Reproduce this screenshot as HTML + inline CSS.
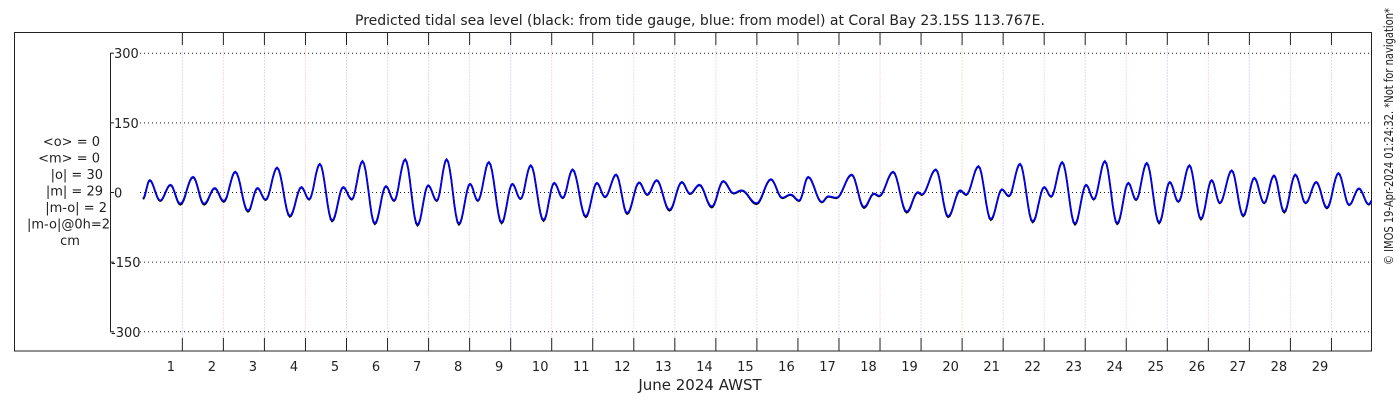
<!DOCTYPE html>
<html><head><meta charset="utf-8"><style>
html,body{margin:0;padding:0;background:#fff;}
svg{display:block;font-family:"DejaVu Sans","Liberation Sans",sans-serif;}
</style></head><body>
<svg id="chart" width="1400" height="400" xmlns="http://www.w3.org/2000/svg">
<text x="700" y="25" text-anchor="middle" font-size="14" fill="#222">Predicted tidal sea level (black: from tide gauge, blue: from model) at Coral Bay 23.15S 113.767E.</text>
<rect x="14.5" y="32.5" width="1357" height="318.5" fill="none" stroke="#222" stroke-width="1"/>
<g id="grid"></g>
<g id="axes"></g>
<g id="series"></g>
<g font-size="13" fill="#222" text-anchor="end">
<text x="100" y="146">&lt;o&gt; = 0</text>
<text x="100" y="162.5">&lt;m&gt; = 0</text>
<text x="103" y="179">|o| = 30</text>
<text x="103" y="195.5">|m| = 29</text>
<text x="107" y="212">|m-o| = 2</text>
<text x="110" y="228.5">|m-o|@0h=2</text>
<text x="70" y="245" text-anchor="middle">cm</text>
</g>
<text x="700" y="390" text-anchor="middle" font-size="15" fill="#222">June 2024 AWST</text>
<text transform="translate(1393,265) rotate(-90)" font-size="12" textLength="257" lengthAdjust="spacingAndGlyphs" fill="#222">© IMOS 19-Apr-2024 01:24:32. *Not for navigation*</text>
</svg>
<script>
const extremeTimes=[0.04,0.205,0.46,0.71,0.95,1.26,1.53,1.79,2.01,2.29,2.60,2.83,3.03,3.31,3.62,3.90,4.09,4.35,4.65,4.92,5.13,5.39,5.69,5.96,6.16,6.43,6.73,6.99,7.20,7.44,7.74,8.01,8.20,8.47,8.78,9.04,9.24,9.49,9.80,10.06,10.27,10.51,10.83,11.10,11.30,11.57,11.84,12.13,12.33,12.56,12.87,13.17,13.37,13.60,13.90,14.18,14.43,14.63,14.99,15.34,15.62,15.82,16.03,16.25,16.58,16.74,16.94,17.31,17.61,17.85,17.98,18.32,18.65,18.92,19.02,19.36,19.66,19.95,20.10,20.40,20.70,20.97,21.14,21.41,21.72,22.00,22.17,22.44,22.75,23.02,23.21,23.48,23.78,24.05,24.24,24.50,24.80,25.06,25.27,25.54,25.82,26.08,26.28,26.57,26.85,27.12,27.36,27.60,27.85,28.12,28.37,28.63,28.89,29.17,29.43,29.67,29.91,29.99];
const gaugeValues=[-13,27,-17,17,-25,34,-25,10,-19,45,-40,10,-15,54,-51,12,-14,62,-61,12,-14,68,-67,14,-17,72,-70,16,-17,72,-68,19,-17,66,-65,19,-13,59,-60,21,-11,50,-52,21,-9,39,-45,22,-4,27,-38,23,-2,17,-31,25,-1,5,-24,29,-11,-4,-17,34,-20,-8,-11,39,-32,-2,-7,45,-42,1,-4,50,-52,5,-4,57,-58,7,-7,62,-63,12,-8,66,-68,17,-14,68,-67,21,-15,64,-65,23,-19,59,-57,27,-22,48,-50,32,-22,37,-42,39,-22,23,-33,42,-26,9,-25,-17];
const modelValues=[-12,27,-17,17,-24,34,-24,10,-18,45,-39,10,-15,54,-50,12,-14,62,-60,12,-14,68,-66,14,-17,72,-69,16,-17,72,-67,19,-17,66,-64,19,-13,59,-59,21,-11,50,-51,21,-9,39,-44,22,-4,27,-37,23,-2,17,-30,25,-1,5,-23,29,-11,-4,-17,34,-20,-8,-11,39,-31,-2,-7,45,-41,1,-4,50,-51,5,-4,57,-57,7,-7,62,-62,12,-8,66,-67,17,-14,68,-66,21,-15,64,-64,23,-19,59,-56,27,-22,48,-49,32,-22,37,-41,39,-22,23,-32,42,-26,9,-25,-17];
const yTicks=[300,150,0,-150,-300];
const dayLabels=["1","2","3","4","5","6","7","8","9","10","11","12","13","14","15","16","17","18","19","20","21","22","23","24","25","26","27","28","29"];

const NS="http://www.w3.org/2000/svg";
const X0=141.3, DX=41.04, Y0=192.5, SY=0.4643, XR=1371;
const xs=t=>X0+t*DX;
const ys=v=>Y0-v*SY;
function mk(tag,attrs,parent){const e=document.createElementNS(NS,tag);for(const k in attrs)e.setAttribute(k,attrs[k]);parent.appendChild(e);return e;}
const grid=document.getElementById('grid'),axes=document.getElementById('axes'),series=document.getElementById('series');

dayLabels.forEach((lab,i)=>{
  const x=xs(i+1);
  const g=mk('line',{x1:x,x2:x,y1:33,y2:350,stroke:i%2?'#f0dcd6':'#d8dcf4','stroke-width':1,'stroke-dasharray':'2,1'},grid);
  
  
  const t1=mk('line',{x1:x,x2:x,y1:32,y2:45,stroke:'#222','stroke-width':1},axes);
  
  
  const t2=mk('line',{x1:x,x2:x,y1:338,y2:351,stroke:'#222','stroke-width':1},axes);
  
  
  const tx=mk('text',{x:xs(i+0.72),y:371,'text-anchor':'middle','font-size':13,fill:'#222'},axes);
  tx.textContent=lab;
  
  
});
const ya=mk('line',{x1:110.5,x2:110.5,y1:ys(300),y2:ys(-300),stroke:'#222','stroke-width':1},axes);


yTicks.forEach(v=>{
  const y=ys(v);
  const gl=mk('line',{x1:140,x2:XR,y1:y,y2:y,stroke:'#222','stroke-width':1,'stroke-dasharray':'1,3'},grid);
  
  
  const tk=mk('line',{x1:110,x2:114,y1:y,y2:y,stroke:'#222','stroke-width':1},axes);
  
  
  const tx=mk('text',{x:v<0?111:114,y:y+5,'font-size':13,fill:'#222'},axes);
  tx.textContent=String(v);
  
  
});
function pathFor(times,vals){
  let d='M'+xs(times[0]).toFixed(1)+','+ys(vals[0]).toFixed(1);
  for(let i=0;i<times.length-1;i++){
    const a=vals[i],b=vals[i+1],t0=times[i],t1=times[i+1];
    for(let k=1;k<=8;k++){const s=k/8;const v=a+(b-a)*(1-Math.cos(Math.PI*s))/2;const t=t0+(t1-t0)*s;
      d+='L'+Math.min(xs(t),XR).toFixed(1)+','+ys(v).toFixed(1);}
  }
  return d;
}
const pg=mk('path',{d:pathFor(extremeTimes,gaugeValues),fill:'none',stroke:'#000','stroke-width':1.8,transform:'translate(0,0.6)'},series);


const pm=mk('path',{d:pathFor(extremeTimes,modelValues),fill:'none',stroke:'#0000ff','stroke-width':1.6},series);


</script>
</body></html>
